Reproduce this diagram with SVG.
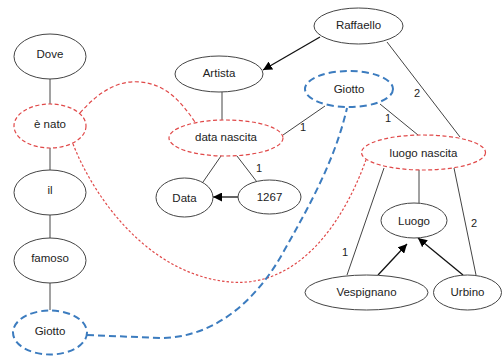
<svg xmlns="http://www.w3.org/2000/svg" width="502" height="356" viewBox="0 0 502 356">
<defs>
<marker id="arr" viewBox="0 0 10 10" refX="10" refY="5" markerWidth="9" markerHeight="9" markerUnits="userSpaceOnUse" orient="auto">
<path d="M0,0 L10,5 L0,10 Z" fill="#000"/>
</marker>
<style>
.n{fill:#fff;stroke:#444;stroke-width:1}
.r{fill:#fff;stroke:#e04848;stroke-width:1.2;stroke-dasharray:4 2.5}
.b{fill:#fff;stroke:#3c7cbf;stroke-width:2;stroke-dasharray:7 4}
.t{font-family:"Liberation Sans",Arial,sans-serif;font-size:11.5px;fill:#222;text-anchor:middle;dominant-baseline:central}
.l{font-family:"Liberation Sans",Arial,sans-serif;font-size:11px;fill:#222;text-anchor:middle;dominant-baseline:central}
.c{stroke:#444;stroke-width:1;fill:none}
.a{stroke:#111;stroke-width:1.3;fill:none}
.rc{stroke:#e04848;stroke-width:1.2;fill:none}
.bc{stroke:#3c7cbf;stroke-width:2;fill:none;stroke-dasharray:7 4}
</style>
</defs>
<rect width="502" height="356" fill="#fff"/>
<g id="connectors">
<line class="c" x1="50" y1="79" x2="50" y2="104"/>
<line class="c" x1="50" y1="148" x2="50" y2="170"/>
<line class="c" x1="50" y1="215" x2="50" y2="238"/>
<line class="c" x1="50" y1="283" x2="50" y2="310"/>
<line class="a" x1="320" y1="37" x2="263" y2="70" marker-end="url(#arr)"/>
<line class="c" x1="222" y1="92" x2="222" y2="120"/>
<line class="c" x1="283" y1="135" x2="325" y2="106"/>
<line class="c" x1="387" y1="42" x2="460" y2="137"/>
<line class="c" x1="380" y1="104" x2="418" y2="135"/>
<line class="c" x1="221" y1="156" x2="203" y2="182"/>
<line class="c" x1="237" y1="156" x2="257" y2="182"/>
<line class="a" x1="238" y1="197" x2="213" y2="197" marker-end="url(#arr)"/>
<line class="c" x1="419" y1="170" x2="419" y2="203"/>
<line class="c" x1="384" y1="168" x2="347" y2="275"/>
<line class="c" x1="454" y1="168" x2="476" y2="275"/>
<line class="a" x1="378" y1="275" x2="407" y2="244" marker-end="url(#arr)"/>
<line class="a" x1="463" y1="275" x2="418" y2="238" marker-end="url(#arr)"/>
<path class="rc" stroke-dasharray="4 2.5" d="M80,113 C100,90 120,80 140,82 C165,84 180,100 195,122"/>
<path class="rc" stroke-dasharray="2.5 2" d="M73,144 C95,200 150,275 230,282 C300,288 345,220 367,157"/>
<path class="bc" d="M87,335 L160,338 C215,338 255,300 280,258 C310,205 335,160 347,108"/>
<text class="l" x="303" y="127">1</text>
<text class="l" x="417" y="93">2</text>
<text class="l" x="388" y="118">1</text>
<text class="l" x="259" y="168">1</text>
<text class="l" x="345" y="252">1</text>
<text class="l" x="474" y="223">2</text>
</g>
<g id="dove"><ellipse class="n" cx="50" cy="56.5" rx="36" ry="22.5"/><text class="t" x="50" y="54">Dove</text></g>
<g id="enato"><ellipse class="r" cx="50" cy="126" rx="36" ry="22"/><text class="t" x="50" y="124">è nato</text></g>
<g id="il"><ellipse class="n" cx="50" cy="192.5" rx="36" ry="22.5"/><text class="t" x="50" y="190">il</text></g>
<g id="famoso"><ellipse class="n" cx="50" cy="260.5" rx="36" ry="22.5"/><text class="t" x="50" y="258">famoso</text></g>
<g id="giotto1"><ellipse class="b" cx="50" cy="332.5" rx="37" ry="22"/><text class="t" x="50" y="331">Giotto</text></g>
<g id="raffaello"><ellipse class="n" cx="358.5" cy="26" rx="44.5" ry="18"/><text class="t" x="358.5" y="25">Raffaello</text></g>
<g id="artista"><ellipse class="n" cx="219" cy="74" rx="44" ry="18"/><text class="t" x="219" y="73">Artista</text></g>
<g id="giotto2"><ellipse class="b" cx="349" cy="89" rx="44" ry="18"/><text class="t" x="349" y="89">Giotto</text></g>
<g id="datanascita"><ellipse class="r" cx="226" cy="138" rx="57" ry="18"/><text class="t" x="226" y="137">data nascita</text></g>
<g id="luogonascita"><ellipse class="r" cx="423.5" cy="152.5" rx="62" ry="17.5"/><text class="t" x="423.5" y="153">luogo nascita</text></g>
<g id="data"><ellipse class="n" cx="184.5" cy="197.5" rx="28.5" ry="19.5"/><text class="t" x="184.5" y="198">Data</text></g>
<g id="n1267"><ellipse class="n" cx="269.5" cy="197" rx="31.5" ry="17"/><text class="t" x="269.5" y="197">1267</text></g>
<g id="luogo"><ellipse class="n" cx="414" cy="220.5" rx="33" ry="17.5"/><text class="t" x="414" y="221">Luogo</text></g>
<g id="vespignano"><ellipse class="n" cx="366.5" cy="292.5" rx="61.5" ry="17.5"/><text class="t" x="366.5" y="292">Vespignano</text></g>
<g id="urbino"><ellipse class="n" cx="467.5" cy="292.5" rx="34" ry="17.5"/><text class="t" x="467.5" y="292">Urbino</text></g>
</svg>
